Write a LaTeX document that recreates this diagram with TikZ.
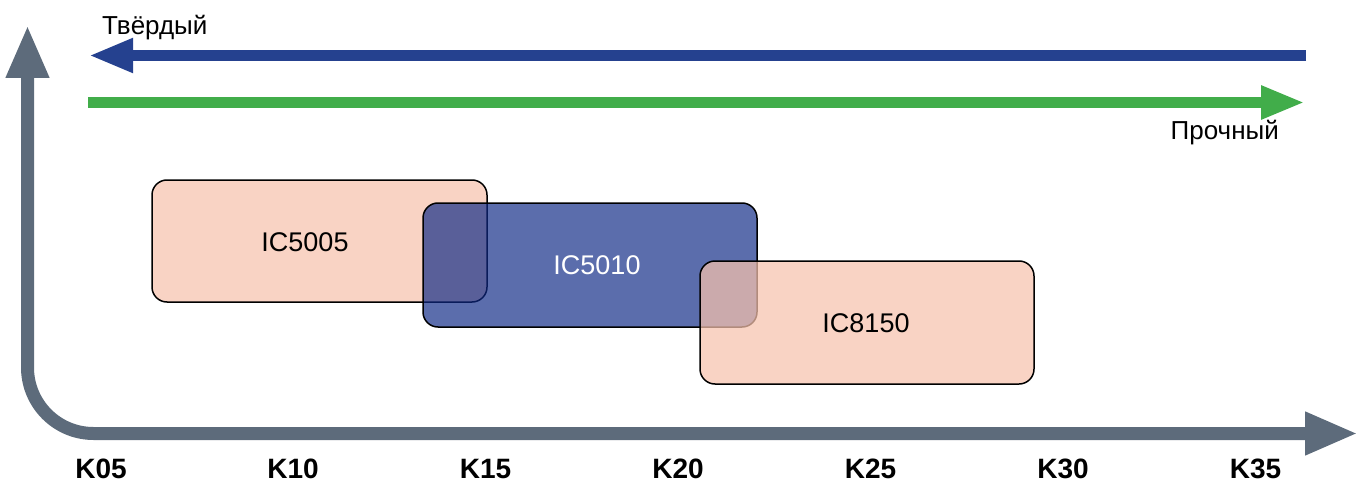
\documentclass[tikz,border=0pt]{standalone}
\usepackage{fontspec}
\setmainfont{Liberation Sans}
\usetikzlibrary{arrows.meta}
\definecolor{axisgray}{RGB}{93,107,123}
\definecolor{hardblue}{RGB}{37,65,143}
\definecolor{toughgreen}{RGB}{65,173,74}
\definecolor{pinkfill}{RGB}{247,194,173}
\definecolor{bluefill}{RGB}{14,40,133}
\tikzset{
  axisline/.style={draw=axisgray, line width=13pt, rounded corners=66pt,
    {Triangle[length=53pt,width=40pt]}-{Triangle[length=53pt,width=40pt]}},
  hardarrow/.style={draw=hardblue, line width=10.5pt, -{Triangle[length=44pt,width=32pt]}},
  tougharrow/.style={draw=toughgreen, line width=11pt, -{Triangle[length=44pt,width=31pt]}},
  gradebox/.style={rectangle, rounded corners=15pt, draw=black, line width=1.5pt, inner sep=0pt},
  pinkbox/.style={gradebox, fill=pinkfill, fill opacity=0.72},
  bluebox/.style={gradebox, fill=bluefill, fill opacity=0.68},
  boxlabel/.style={font=\fontsize{27}{30}\selectfont, inner sep=0pt},
  klabel/.style={font=\fontsize{28}{32}\selectfont\bfseries, inner sep=0pt},
  arrowlabel/.style={font=\fontsize{26}{30}\selectfont, inner sep=0pt}
}
\begin{document}
\begin{tikzpicture}[x=1pt,y=-1pt]
\useasboundingbox (0,0) rectangle (1365,484);
% axes
\coordinate (ytip) at (27.5,25);
\coordinate (corner) at (27.5,433.5);
\coordinate (xtip) at (1358,433.5);
\draw[axisline] (ytip) -- (corner) -- (xtip);
% hard / tough arrows
\coordinate (hstart) at (1306,55.5);
\coordinate (hend) at (89,55.5);
\draw[hardarrow] (hstart) -- (hend);
\node[arrowlabel, anchor=west] (hard) at (102,28) {Твёрдый};
\coordinate (tstart) at (88,102.5);
\coordinate (tend) at (1305,102.5);
\draw[tougharrow] (tstart) -- (tend);
\node[arrowlabel, anchor=east] (tough) at (1279,133) {Прочный};
% boxes
\node[pinkbox, minimum width=335pt, minimum height=122pt] (b5005) at (319.5,241) {};
\node[boxlabel] (l5005) at (305,242.5) {IC5005};
\node[bluebox, minimum width=334pt, minimum height=124pt] (b5010) at (590,265) {};
\node[boxlabel, text=white] (l5010) at (597,265) {IC5010};
\node[pinkbox, minimum width=334pt, minimum height=123pt] (b8150) at (867,322.5) {};
\node[boxlabel] (l8150) at (866,323.5) {IC8150};
% grade labels
\node[klabel] (k05) at (101,469) {K05};
\node[klabel] (k10) at (293,469) {K10};
\node[klabel] (k15) at (485.5,469) {K15};
\node[klabel] (k20) at (678,469) {K20};
\node[klabel] (k25) at (870.5,469) {K25};
\node[klabel] (k30) at (1063,469) {K30};
\node[klabel] (k35) at (1255.5,469) {K35};
\end{tikzpicture}
\end{document}
